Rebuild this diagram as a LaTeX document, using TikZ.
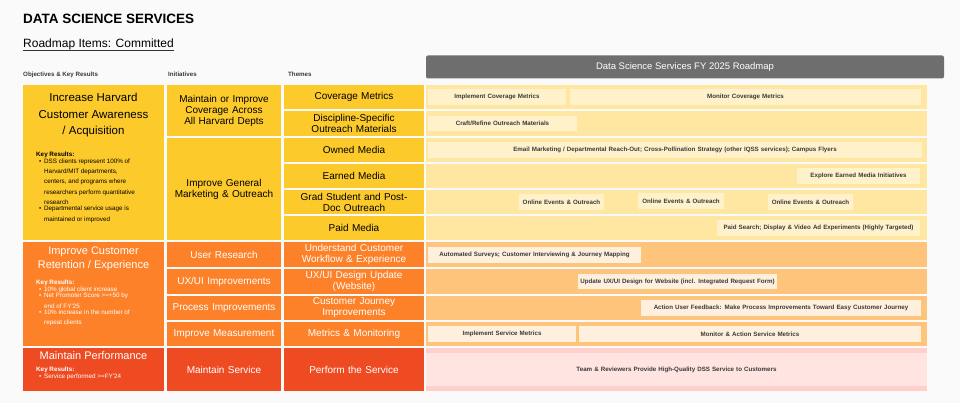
\documentclass[tikz,border=0pt]{standalone}
\usepackage{fontspec}
\setmainfont{Liberation Sans}
\usetikzlibrary{calc}
\definecolor{bgc}{HTML}{FAFAFA}
\definecolor{yel}{HTML}{FDCA2C}
\definecolor{org}{HTML}{FD8128}
\definecolor{redc}{HTML}{EF4B23}
\definecolor{ybar}{HTML}{FFE7A1}
\definecolor{ychip}{HTML}{FFF2CB}
\definecolor{obar}{HTML}{FFC47C}
\definecolor{ochip}{HTML}{FFF0DD}
\definecolor{pbar}{HTML}{FFE4E1}
\definecolor{pstrip}{HTML}{FFCFCB}
\definecolor{hdr}{HTML}{6E6E6E}
\definecolor{txt}{HTML}{3A3A3A}
\newcommand\bx[7]{%
  \pgfmathsetmacro\bw{#4-#2}\pgfmathsetmacro\bh{#5-#3}%
  \pgfmathsetmacro\bcx{(#2+#4)/2}\pgfmathsetmacro\bcy{-(#3+#5)/2}%
  \node[#6,minimum width=\bw pt,minimum height=\bh pt,text width=\bw pt-4pt] (#1) at (\bcx pt,\bcy pt) {#7};}
\tikzset{
  base/.style={inner sep=0pt,outer sep=0pt,align=center,draw=none,execute at begin node={\hyphenpenalty=10000\exhyphenpenalty=10000}},
  ycell/.style={base,fill=yel,text=black,font=\fontsize{10}{11}\selectfont},
  ocell/.style={base,fill=org,text=white,font=\fontsize{10}{11}\selectfont},
  rcell/.style={base,fill=redc,text=white,font=\fontsize{10}{11}\selectfont},
  ybarst/.style={base,fill=ybar},
  obarst/.style={base,fill=obar},
  ychipst/.style={base,fill=ychip,text=txt,font=\bfseries\fontsize{6.2}{7}\selectfont},
  ochipst/.style={base,fill=ochip,text=txt,font=\bfseries\fontsize{6.2}{7}\selectfont},
  colhead/.style={anchor=base west,inner sep=0pt,font=\bfseries\fontsize{6.2}{7}\selectfont,text=txt},
  otitle/.style={anchor=north,inner sep=0pt,align=center,font=\fontsize{11.5}{16.5}\selectfont},
  kr/.style={anchor=north west,inner sep=0pt,align=left,font=\fontsize{6.3}{10.3}\selectfont},
}
\newcommand\krlist[1]{\begin{tabular}{@{}p{8pt}@{}p{92pt}@{}}\multicolumn{2}{@{}l}{\textbf{Key Results:}}\\#1\end{tabular}}
\newcommand\ki[1]{\centering\textbullet & \raggedright #1\tabularnewline}
\begin{document}
\begin{tikzpicture}[x=1pt,y=1pt]
\fill[bgc] (0,0) rectangle (960,-403);
\useasboundingbox (0,0) rectangle (960,-403);
% titles
\node[anchor=base west,inner sep=0pt,font=\bfseries\fontsize{13.5}{16}\selectfont] (title) at (23,-24) {DATA SCIENCE SERVICES};
\node[anchor=base west,inner sep=0pt,font=\fontsize{12}{14}\selectfont] (sub) at (23,-48) {Roadmap Items: Committed};
\draw[line width=1pt,black!80] (sub.base west)++(0,-3) -- ($(sub.base east)+(0,-3)$);
\node[colhead] (h1) at (23,-77) {Objectives \& Key Results};
\node[colhead] (h2) at (168,-77) {Initiatives};
\node[colhead] (h3) at (288,-77) {Themes};
\node[base,fill=hdr,rounded corners=2pt,minimum width=518pt,minimum height=23pt,text=white,font=\fontsize{9.5}{10}\selectfont] (rh) at (685,-67) {Data Science Services FY 2025 Roadmap};
% column 1
\bx{o1}{23}{85}{164}{240}{ycell}{}
\bx{o2}{23}{242}{164}{346}{ocell}{}
\bx{o3}{23}{348}{164}{391}{rcell}{}
\node[otitle] (o1t) at (93.5,-93) {Increase Harvard\\Customer Awareness\\/ Acquisition};
\node[kr] (o1k) at (36,-152) {\renewcommand\arraystretch{0.62}\krlist{%
 \ki{DSS clients represent 100\% of Harvard/MIT departments, centers, and programs where researchers perform quantitative research}
 \ki{Departmental service usage is maintained or improved}}};
\node[otitle,text=white,font=\fontsize{11}{14}\selectfont] (o2t) at (93.5,-247) {Improve Customer\\Retention / Experience};
\node[kr,text=white] (o2k) at (36,-280) {\renewcommand\arraystretch{0.62}\krlist{%
 \ki{10\% global client increase}
 \ki{Net Promoter Score >=+50 by end of FY'25}
 \ki{10\% increase in the number of repeat clients}}};
\node[otitle,text=white,font=\fontsize{11}{12}\selectfont] (o3t) at (93.5,-351) {Maintain Performance};
\node[kr,text=white] (o3k) at (36,-367) {\renewcommand\arraystretch{0.62}\krlist{%
 \ki{Service performed >=FY'24}}};
% column 2
\bx{i1}{167}{85}{281}{136}{ycell}{Maintain or Improve Coverage Across All Harvard Depts}
\bx{i2}{167}{138}{281}{240}{ycell}{\fontsize{10}{15}\selectfont Improve General\\Marketing \& Outreach}
\bx{i3}{167}{242}{281}{267}{ocell}{User Research}
\bx{i4}{167}{269}{281}{294}{ocell}{UX/UI Improvements}
\bx{i5}{167}{296}{281}{320}{ocell}{Process Improvements}
\bx{i6}{167}{322}{281}{346}{ocell}{Improve Measurement}
\bx{i7}{167}{348}{281}{391}{rcell}{Maintain Service}
% column 3
\bx{t1}{284}{85}{424}{109}{ycell}{Coverage Metrics}
\bx{t2}{284}{111}{424}{136}{ycell}{Discipline-Specific\\Outreach Materials}
\bx{t3}{284}{138}{424}{162}{ycell}{Owned Media}
\bx{t4}{284}{164}{424}{188}{ycell}{Earned Media}
\bx{t5}{284}{190}{424}{214}{ycell}{Grad Student and Post-\\Doc Outreach}
\bx{t6}{284}{216}{424}{240}{ycell}{Paid Media}
\bx{t7}{284}{242}{424}{267}{ocell}{Understand Customer\\Workflow \& Experience}
\bx{t8}{284}{269}{424}{294}{ocell}{UX/UI Design Update\\(Website)}
\bx{t9}{284}{296}{424}{320}{ocell}{Customer Journey\\Improvements}
\bx{t10}{284}{322}{424}{346}{ocell}{Metrics \& Monitoring}
\bx{t11}{284}{348}{424}{391}{rcell}{Perform the Service}
% bars
\bx{b1}{426}{85}{927}{109}{ybarst}{}
\bx{b2}{426}{111}{927}{136}{ybarst}{}
\bx{b3}{426}{138}{927}{162}{ybarst}{}
\bx{b4}{426}{164}{927}{188}{ybarst}{}
\bx{b5}{426}{190}{927}{214}{ybarst}{}
\bx{b6}{426}{216}{927}{240}{ybarst}{}
\bx{b7}{426}{242}{927}{267}{obarst}{}
\bx{b8}{426}{269}{927}{294}{obarst}{}
\bx{b9}{426}{296}{927}{320}{obarst}{}
\bx{b10}{426}{322}{927}{346}{obarst}{}
\bx{b11}{426}{348}{927}{391}{base,fill=pstrip}{}
\bx{b11i}{426}{353}{927}{386}{base,fill=pbar,text=txt,font=\bfseries\fontsize{6.2}{7}\selectfont}{Team \& Reviewers Provide High-Quality DSS Service to Customers}
% chips
\bx{c1}{428}{89}{566}{105}{ychipst}{Implement Coverage Metrics}
\bx{c2}{570}{89}{921}{105}{ychipst}{Monitor Coverage Metrics}
\bx{c3}{428}{116}{577}{131}{ychipst}{Craft/Refine Outreach Materials}
\bx{c4}{428}{142}{922}{158}{ychipst}{Email Marketing / Departmental Reach-Out; Cross-Pollination Strategy (other IQSS services); Campus Flyers}
\bx{c5}{797}{168}{920}{184}{ychipst}{Explore Earned Media Initiatives}
\bx{c6}{519}{194}{604}{210}{ychipst}{Online Events \& Outreach}
\bx{c7}{638}{193}{724}{209}{ychipst}{Online Events \& Outreach}
\bx{c8}{768}{194}{853}{210}{ychipst}{Online Events \& Outreach}
\bx{c9}{717}{220}{920}{236}{ychipst}{Paid Search; Display \& Video Ad Experiments (Highly Targeted)}
\bx{c10}{428}{247}{641}{263}{ochipst}{Automated Surveys; Customer Interviewing \& Journey Mapping}
\bx{c11}{578}{274}{777}{289}{ochipst}{Update UX/UI Design for Website (incl. Integrated Request Form)}
\bx{c12}{641}{300}{921}{316}{ochipst}{Action User Feedback: Make Process Improvements Toward Easy Customer Journey}
\bx{c13}{428}{326}{576}{342}{ochipst}{Implement Service Metrics}
\bx{c14}{579}{326}{921}{342}{ochipst}{Monitor \& Action Service Metrics}
\end{tikzpicture}
\end{document}
